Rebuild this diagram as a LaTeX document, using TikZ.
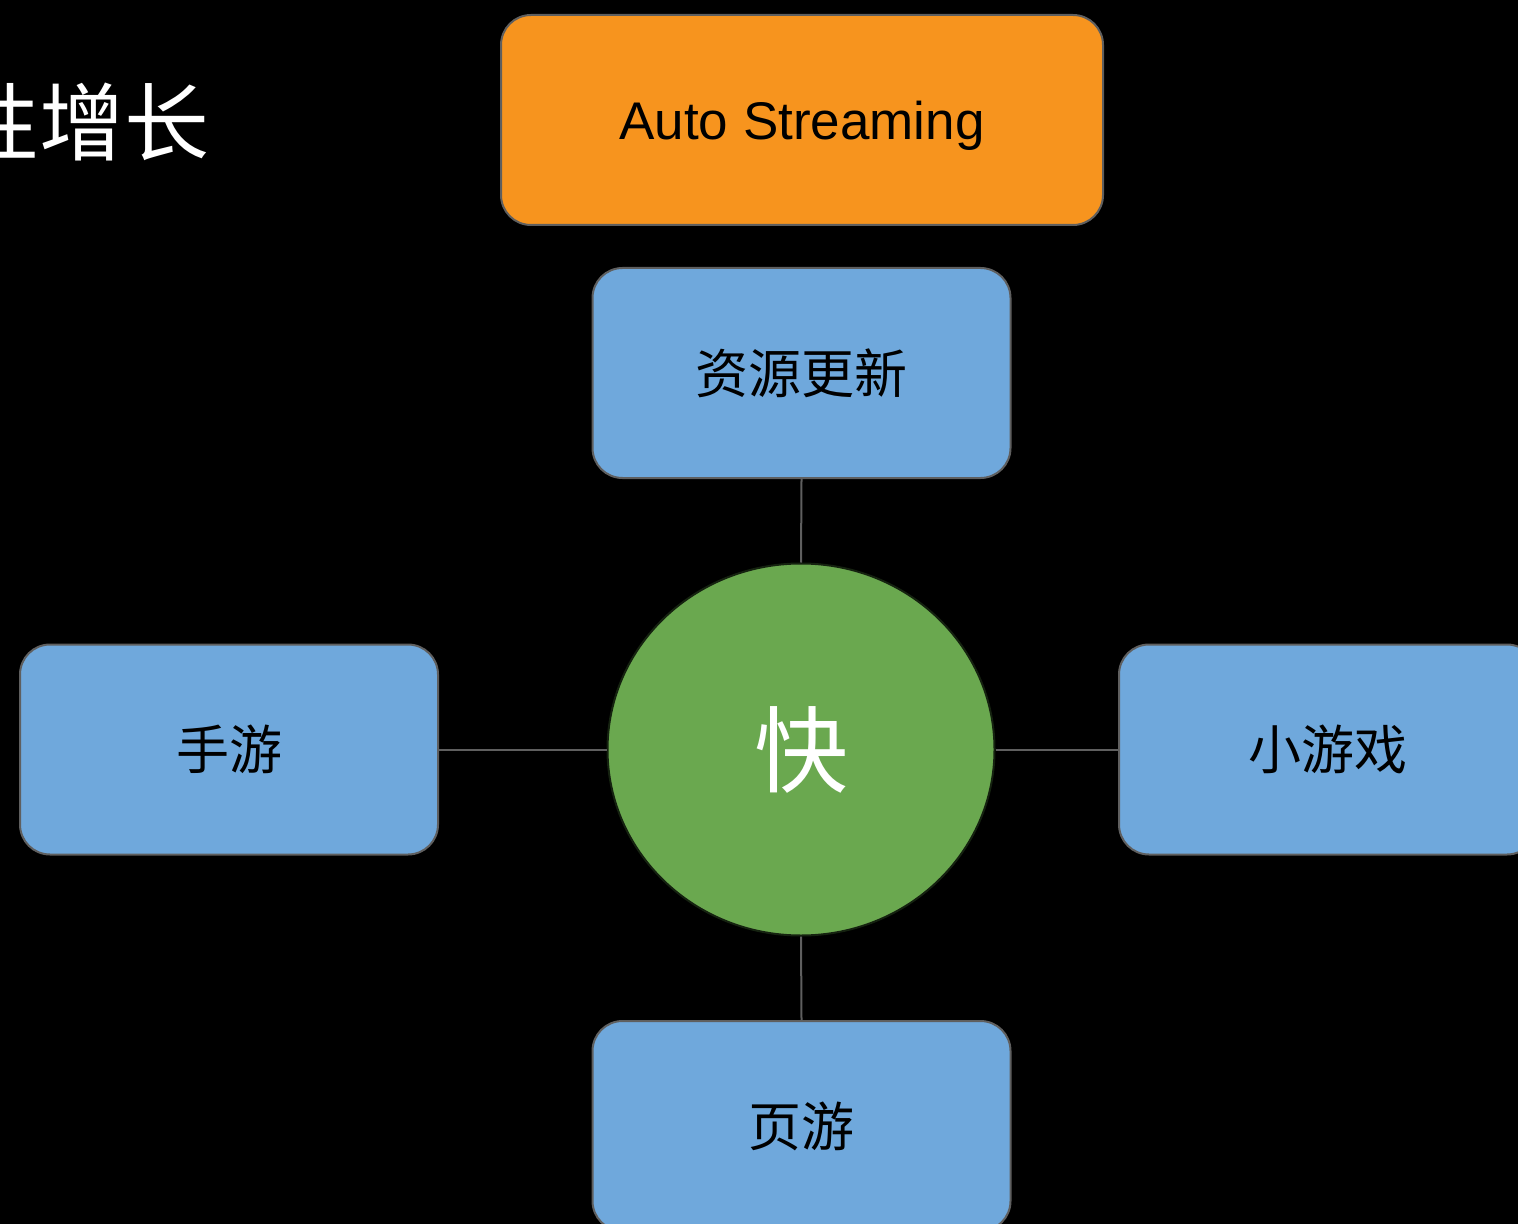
\documentclass[tikz,border=0pt]{standalone}
\usepackage{fontspec}
\usetikzlibrary{shapes.geometric}
\setmainfont{Liberation Sans}
\newfontfamily\cjk{Noto Sans CJK SC}
\definecolor{orangebox}{HTML}{F7941E}
\definecolor{bluebox}{HTML}{6FA8DC}
\definecolor{greencirc}{HTML}{6AA84F}
\definecolor{edgegray}{HTML}{5F5F5F}
\tikzset{
  bluenode/.style={draw=edgegray, line width=1pt, fill=bluebox, rounded corners=15pt,
    minimum width=209pt, minimum height=105pt, inner sep=0pt,
    font=\cjk\fontsize{26.5}{30}\selectfont, text=black},
  orangenode/.style={draw=edgegray, line width=1pt, fill=orangebox, rounded corners=15pt,
    minimum width=301pt, minimum height=105pt, inner sep=0pt, text depth=0pt,
    font=\fontsize{26.5}{30}\selectfont, text=black},
  centernode/.style={ellipse, draw=black!80!greencirc, line width=1pt, fill=greencirc,
    minimum width=193.5pt, minimum height=186pt, inner sep=0pt,
    font=\cjk\fontsize{47}{50}\selectfont, text=white},
  link/.style={draw=edgegray, line width=1pt},
  titletext/.style={font=\cjk\fontsize{42.5}{46}\selectfont, text=white, inner sep=0pt}
}
\begin{document}
\begin{tikzpicture}[x=0.5pt, y=-0.5pt]
\useasboundingbox (0,0) rectangle (1518,1224);
\fill[black] (0,0) rectangle (1518,1224);
\clip (0,0) rectangle (1518,1224);
\node[titletext, anchor=east] (title) at (210,122) {性增长};
\node[orangenode] (auto) at (802,120) {Auto Streaming};
\node[bluenode] (res) at (801.5,373) {资源更新};
\node[centernode] (fast) at (801,749.5) {快};
\node[bluenode] (mobile) at (229,749.5) {手游};
\node[bluenode] (mini) at (1328,749.5) {小游戏};
\node[bluenode] (web) at (801.5,1126) {页游};
\draw[link] (res.south) -- (fast.north);
\draw[link] (mobile.east) -- (fast.west);
\draw[link] (fast.east) -- (mini.west);
\draw[link] (fast.south) -- (web.north);
\end{tikzpicture}
\end{document}
